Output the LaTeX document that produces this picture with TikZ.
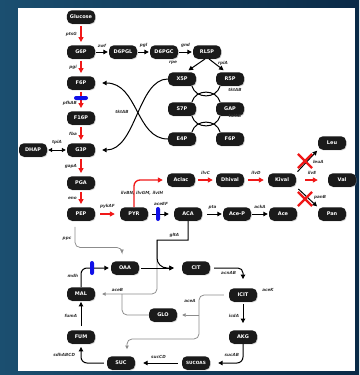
\documentclass[tikz,border=0pt]{standalone}
\usepackage{fontspec}
\newfontfamily\metfont{DejaVu Sans}
\usetikzlibrary{arrows.meta,shadows,shapes.misc}
\definecolor{mbsea}{HTML}{1B4F70}
\definecolor{mbnavy}{HTML}{0A2A47}
\definecolor{mbdark}{HTML}{1A1A1A}
\definecolor{mbred}{HTML}{F01818}
\definecolor{mbgrey}{HTML}{8C8C8C}
\definecolor{mbblue}{HTML}{1010E8}
\tikzset{
  mbox/.style={fill=mbdark, text=white, rounded corners=5pt, minimum width=28pt, minimum height=13.5pt,
    inner xsep=3pt, inner ysep=1pt, font=\metfont\bfseries\fontsize{5}{6}\selectfont,
    drop shadow={shadow xshift=0.7pt, shadow yshift=-0.7pt, fill=black!40}},
  mbarrow/.style={-{Triangle[length=4.5pt,width=4.5pt]}, line width=1pt, shorten <=2pt, shorten >=2pt},
  mbboth/.style={{Triangle[length=4pt,width=4pt]}-{Triangle[length=4pt,width=4pt]}, line width=0.9pt, shorten <=1pt, shorten >=1pt},
  mbflux/.style={-{Triangle[length=5pt,width=5pt]}, draw=mbred, line width=1.3pt, shorten <=2pt, shorten >=3pt},
  mbshunt/.style={-{Triangle[length=3.5pt,width=3.5pt]}, draw=mbgrey, line width=0.75pt, rounded corners=5pt},
  mbgene/.style={font=\metfont\bfseries\itshape\fontsize{4.2}{5}\selectfont, text=black!80, inner sep=0.5pt},
  mbknock/.style={fill=mbblue, rounded corners=2pt},
  mbblock/.style={cross out, draw=mbred, line width=2.2pt, minimum size=12pt, inner sep=0pt},
  mbring/.style={line width=1pt, looseness=1.25},
}

\begin{document}
\begin{tikzpicture}[x=1pt, y=-1pt]
  % backdrop and page
  \useasboundingbox (0,0) rectangle (359,375);
  \shade[left color=mbsea, right color=mbnavy] (0,0) rectangle (359,375);
  \fill[white] (18,7.5) rectangle (355,371);

  % glycolysis
  \node[mbox] (Glucose) at (81,17) {Glucose};
  \node[mbox] (G6P) at (81,52) {G6P};
  \node[mbox] (F6P) at (81,83) {F6P};
  \node[mbox] (F16P) at (81,118) {F16P};
  \node[mbox] (G3P) at (81,150) {G3P};
  \node[mbox] (DHAP) at (33,150) {DHAP};
  \node[mbox] (PGA) at (81,183) {PGA};
  \node[mbox] (PEP) at (81,214) {PEP};
  \node[mbox] (PYR) at (134,214) {PYR};

  % pentose phosphate
  \node[mbox] (D6PGL) at (123,52) {D6PGL};
  \node[mbox] (D6PGC) at (164,52) {D6PGC};
  \node[mbox] (RL5P) at (207,52) {RL5P};
  \node[mbox] (X5P) at (182,79) {X5P};
  \node[mbox] (R5P) at (230,79) {R5P};
  \node[mbox] (S7P) at (182,109) {S7P};
  \node[mbox] (GAP) at (230,109) {GAP};
  \node[mbox] (E4P) at (182,139) {E4P};
  \node[mbox] (F6Pb) at (230,139) {F6P};

  % branched chain amino acids, pantothenate
  \node[mbox] (Aclac) at (181,180) {Aclac};
  \node[mbox] (Dhival) at (230,180) {Dhival};
  \node[mbox] (Kival) at (282,180) {Kival};
  \node[mbox] (Leu) at (332,143) {Leu};
  \node[mbox] (Val) at (342,180) {Val};
  \node[mbox] (Pan) at (332,214) {Pan};

  % acetate
  \node[mbox] (ACA) at (188,214) {ACA};
  \node[mbox] (AceP) at (237,214) {Ace-P};
  \node[mbox] (Ace) at (283,214) {Ace};

  % TCA cycle and glyoxylate shunt
  \node[mbox] (OAA) at (125,268) {OAA};
  \node[mbox] (CIT) at (196,268) {CIT};
  \node[mbox] (ICIT) at (243,295) {ICIT};
  \node[mbox] (AKG) at (243,337) {AKG};
  \node[mbox, font=\metfont\bfseries\fontsize{4.3}{5}\selectfont] (SUCOAS) at (196,363) {SUCOAS};
  \node[mbox] (SUC) at (121,363) {SUC};
  \node[mbox] (FUM) at (81,337) {FUM};
  \node[mbox] (MAL) at (81,294) {MAL};
  \node[mbox] (GLO) at (163,315) {GLO};

  \coordinate (gltTurn) at (157,240);
  \coordinate (aceBJoin) at (122,294);
  \coordinate (shuntTop) at (199,295);
  \coordinate (shuntLow) at (199,339);
  \coordinate (shuntFork) at (199,315);

  % glycolytic flux
  \draw[mbflux] (Glucose) -- node[mbgene, left=3pt] {ptsG} (G6P);
  \draw[mbflux] (G6P) -- node[mbgene, left=3pt] {pgi} (F6P);
  \draw[mbflux] (F6P) -- node[mbgene, left=3pt, pos=0.62] {pfkAB} (F16P);
  \draw[mbflux] (F16P) -- node[mbgene, left=3pt] {fba} (G3P);
  \draw[mbflux] (G3P) -- node[mbgene, left=3pt] {gapA} (PGA);
  \draw[mbflux] (PGA) -- node[mbgene, left=3pt] {eno} (PEP);
  \draw[mbflux, shorten <=5pt, shorten >=5pt] (PEP) -- node[mbgene, above=4pt] {pykAF} (PYR);
  \draw[mbboth] (DHAP) -- node[mbgene, above=5pt] {tpiA} (G3P);

  % oxidative and non-oxidative PPP
  \draw[mbarrow, shorten <=1pt, shorten >=1pt] (G6P) -- node[mbgene, above=4pt] {zwf} (D6PGL);
  \draw[mbarrow, shorten <=1pt, shorten >=1pt] (D6PGL) -- node[mbgene, above=4pt] {pgl} (D6PGC);
  \draw[mbarrow, shorten <=1pt, shorten >=1pt] (D6PGC) -- node[mbgene, above=4pt] {gnd} (RL5P);
  \draw[mbarrow, shorten <=0pt, shorten >=3pt] ([xshift=-2pt]RL5P.south) -- (X5P.60);
  \draw[mbarrow, shorten <=0pt, shorten >=3pt] ([xshift=2pt]RL5P.south) -- (R5P.120);
  \node[mbgene] (rpeLbl) at (173,63) {rpe};
  \node[mbgene] (rpiLbl) at (223,63) {rpiA};

  \draw[mbring] (X5P.-35) to[out=-75, in=-105] (R5P.-145);
  \draw[mbring] (S7P.35) to[out=75, in=105] (GAP.145);
  \draw[mbring] (S7P.-35) to[out=-75, in=-105] (GAP.-145);
  \draw[mbring] (E4P.35) to[out=75, in=105] (F6Pb.145);
  \node[mbgene] (tktLbl) at (235,90) {tktAB};
  \node[mbgene] (talLbl) at (235,116) {talAB};

  \draw[mbarrow, shorten <=0pt, shorten >=7pt] (E4P.west) .. controls (136,139) and (138,83) .. (F6P.east);
  \draw[mbarrow, shorten <=0pt, shorten >=7pt] (X5P.west) .. controls (138,79) and (136,150) .. (G3P.east);
  \node[mbgene] (tktBigLbl) at (122,112) {tktAB};

  % pyruvate to valine and beyond
  \draw[mbflux, rounded corners=6pt, shorten <=0pt, shorten >=4pt] (PYR.north) |- (Aclac.west);
  \node[mbgene] (ilvLbl) at (142,193) {ilvBN, ilvGM, ilvIH};
  \draw[mbflux, shorten <=3pt] (Aclac) -- node[mbgene, above=4pt] {ilvC} (Dhival);
  \draw[mbflux, shorten <=4pt, shorten >=4pt] (Dhival) -- node[mbgene, above=4pt] {ilvD} (Kival);
  \draw[mbflux, shorten <=9pt, shorten >=10pt] (Kival) -- node[mbgene, above=4pt] {ilvE} (Val);
  \draw[mbarrow, shorten <=2pt, shorten >=1pt] (Kival.north east) -- node[mbgene, right=5pt] {leuA} (Leu.south west);
  \draw[mbarrow, shorten <=3pt, shorten >=1pt] (Kival.south east) -- node[mbgene, right=6pt] {panB} (Pan.north west);
  \node[mbblock] (leuBlock) at (305,161) {};
  \node[mbblock] (panBlock) at (305,199) {};

  % pyruvate to acetate
  \draw[mbarrow, shorten <=4pt, shorten >=5pt] (PYR) -- node[mbgene, above=7.5pt] {aceEF} (ACA);
  \draw[mbarrow, shorten <=5pt, shorten >=1pt] (ACA) -- node[mbgene, above=4pt] {pta} (AceP);
  \draw[mbarrow, shorten <=1pt, shorten >=1pt] (AceP) -- node[mbgene, above=4pt] {ackA} (Ace);

  % anaplerotic and glyoxylate routes
  \draw[mbshunt, shorten <=6pt, shorten >=8pt] ([xshift=-6pt]PEP.south) -- ++(0,26.5) -| ([xshift=-3pt]OAA.north);
  \node[mbgene] (ppcLbl) at (67,239) {ppc};
  \draw[mbshunt, shorten >=7pt] (gltTurn) |- node[mbgene, above=2pt, pos=0.82] {aceB} (MAL.east);
  \draw[mbshunt, -] (GLO.west) -| (aceBJoin);
  \draw[mbshunt, shorten <=5pt, shorten >=7pt] (ICIT.west) -- (shuntTop) -- (shuntLow) -| ([xshift=6pt]SUC.north);
  \draw[mbshunt, shorten >=5pt] (shuntFork) -- (GLO.east);
  \node[mbgene] (aceALbl) at (190,301) {aceA};
  \node[mbgene] (aceKLbl) at (268,290) {aceK};

  % TCA cycle
  \draw[mbarrow, rounded corners=6pt, shorten <=0pt] (MAL.north) |- node[mbgene, left=2pt, pos=0.3] {mdh} (OAA.west);
  \draw[mbarrow, shorten <=2pt, shorten >=8pt] (OAA) -- (CIT);
  \draw[mbarrow, shorten <=0pt, shorten >=8pt] (ACA.south) |- node[mbgene, above=2pt, pos=0.72] {gltA} (gltTurn) [rounded corners=10pt] |- (CIT.west);
  \draw[mbarrow, rounded corners=5pt, shorten <=4pt, shorten >=9pt] (CIT.east) -| node[mbgene, below=2pt, pos=0.28] {acnAB} (ICIT.north);
  \draw[mbarrow, shorten >=7pt] (ICIT) -- node[mbgene, left=3pt] {icdA} (AKG);
  \draw[mbarrow, rounded corners=6pt, shorten <=0pt, shorten >=8pt] (AKG.south) |- node[mbgene, left=3pt, pos=0.3] {sucAB} (SUCOAS.east);
  \draw[mbarrow, shorten <=4pt, shorten >=8pt] (SUCOAS) -- node[mbgene, above=3pt] {sucCD} (SUC);
  \draw[mbarrow, rounded corners=6pt, shorten <=3pt, shorten >=3pt] (SUC.west) -| node[mbgene, left=5pt, pos=0.72] {sdhABCD} (FUM.south);
  \draw[mbarrow, shorten <=4pt, shorten >=1pt] (FUM) -- node[mbgene, left=3pt] {fumA} (MAL);

  % knock-downs
  \node[mbknock, minimum width=14pt, minimum height=4pt, inner sep=0pt] (pfkKD) at (81,98) {};
  \node[mbknock, minimum width=4pt, minimum height=14pt, inner sep=0pt] (aceKD) at (158,214) {};
  \node[mbknock, minimum width=4pt, minimum height=14pt, inner sep=0pt] (mdhKD) at (92,268) {};
\end{tikzpicture}
\end{document}
